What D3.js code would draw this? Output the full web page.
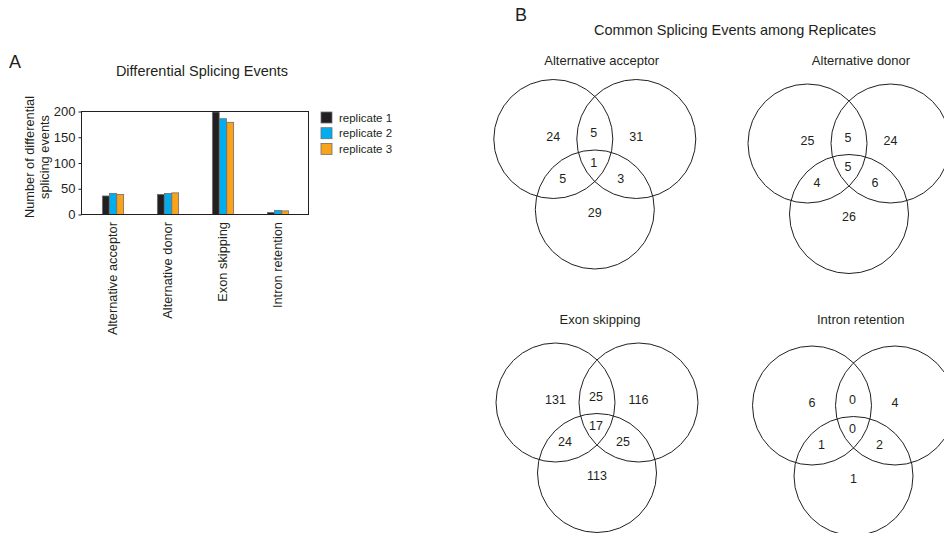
<!DOCTYPE html>
<html>
<head>
<meta charset="utf-8">
<script src="https://cdn.jsdelivr.net/npm/d3@7"></script>
<style>
  body { margin: 0; background: #fff; }
  text { font-family: "Liberation Sans", Arial, sans-serif; fill: #231f20; }
</style>
</head>
<body>
<div id="chart"></div>
<script>
// bar chart data (panel A)
const categories = ['Alternative acceptor', 'Alternative donor', 'Exon skipping', 'Intron retention'];
const replicates = ['replicate 1', 'replicate 2', 'replicate 3'];
const rep1 = [36, 39, 199, 4];
const rep2 = [41, 41, 186, 8];
const rep3 = [39, 42, 179, 7];
const yTicks = [0, 50, 100, 150, 200];
const barColors = ['#231f20', '#00aeef', '#f9a31b'];

// venn counts (panel B): only1, 1&2, only2, 1&2&3, 1&3, 2&3, only3
const vennTitles = ['Alternative acceptor', 'Alternative donor', 'Exon skipping', 'Intron retention'];
const vennAcceptor = [24, 5, 31, 1, 5, 3, 29];
const vennDonor = [25, 5, 24, 5, 4, 6, 26];
const vennExon = [131, 25, 116, 17, 24, 25, 113];
const vennIntron = [6, 0, 4, 0, 1, 2, 1];

const W = 944, H = 533;

const svg = d3.select('#chart')
    .append('svg')
    .attr('width', W)
    .attr('height', H);

// ---------- panel A ----------
const plotL = 81.5, plotR = 308.5, plotT = 111.5, plotB = 214.5;

const x = d3.scaleBand()
    .domain(categories)
    .range([85.5, 305.5])
    .paddingInner(0.6)
    .paddingOuter(0.3);

const xSub = d3.scaleBand()
    .domain(replicates)
    .range([0, x.bandwidth()])
    .padding(0.05);

const y = d3.scaleLinear()
    .domain([0, 200])
    .range([plotB, plotT]);

svg.append('text')
    .attr('x', 9).attr('y', 62)
    .attr('dy', '0.35em')
    .style('font-size', '18px')
    .text('A');

svg.append('text')
    .attr('x', 202).attr('y', 71)
    .attr('dy', '0.35em')
    .attr('text-anchor', 'middle')
    .style('font-size', '14.5px')
    .text('Differential Splicing Events');

const series = [rep1, rep2, rep3];
const groups = svg.append('g').selectAll('g')
    .data(categories)
    .enter()
    .append('g')
    .attr('transform', d => `translate(${x(d)},0)`);

groups.selectAll('rect')
    .data((d, i) => replicates.map((r, j) => ({ rep: r, j: j, value: series[j][i] })))
    .enter()
    .append('rect')
    .attr('x', d => xSub(d.rep))
    .attr('width', xSub.bandwidth())
    .attr('y', d => y(d.value))
    .attr('height', d => y(0) - y(d.value))
    .style('fill', d => barColors[d.j])
    .style('stroke', '#6d6e71')
    .style('stroke-width', 0.8);

// frame
svg.append('rect')
    .attr('x', plotL).attr('y', plotT)
    .attr('width', plotR - plotL).attr('height', plotB - plotT)
    .style('fill', 'none')
    .style('stroke', '#231f20')
    .style('stroke-width', 1);

const yAxis = d3.axisLeft(y).tickValues(yTicks).tickSize(3).tickSizeOuter(0);
const gy = svg.append('g')
    .attr('transform', `translate(${plotL},0)`)
    .call(yAxis);
gy.select('.domain').remove();
gy.selectAll('text')
    .style('font-size', '13px')
    .style('font-family', '"Liberation Sans", Arial, sans-serif')
    .style('fill', '#231f20');
gy.selectAll('line').style('stroke', '#231f20');

// y label, two lines
svg.append('g').selectAll('text')
    .data(['Number of differential', 'splicing events'])
    .enter()
    .append('text')
    .attr('transform', (d, i) => `translate(${30 + i * 15},157) rotate(-90)`)
    .attr('dy', '0.35em')
    .attr('text-anchor', 'middle')
    .style('font-size', '12.8px')
    .text(d => d);

// x labels
svg.append('g').selectAll('text')
    .data(categories)
    .enter()
    .append('text')
    .attr('transform', d => `translate(${x(d) + x.bandwidth() / 2},222) rotate(-90)`)
    .attr('dy', '0.35em')
    .attr('text-anchor', 'end')
    .style('font-size', '12.8px')
    .text(d => d);

// legend
const legend = svg.append('g').selectAll('g')
    .data(replicates)
    .enter()
    .append('g')
    .attr('transform', (d, i) => `translate(321,${112 + i * 15.7})`);
legend.append('rect')
    .attr('width', 11).attr('height', 11)
    .style('fill', (d, i) => barColors[i])
    .style('stroke', '#6d6e71')
    .style('stroke-width', 0.8);
legend.append('text')
    .attr('x', 18).attr('y', 5.5)
    .attr('dy', '0.35em')
    .style('font-size', '11.5px')
    .text(d => d);

// ---------- panel B ----------
svg.append('text')
    .attr('x', 515).attr('y', 15)
    .attr('dy', '0.35em')
    .style('font-size', '18px')
    .text('B');

svg.append('text')
    .attr('x', 735).attr('y', 30)
    .attr('dy', '0.35em')
    .attr('text-anchor', 'middle')
    .style('font-size', '14.5px')
    .text('Common Splicing Events among Replicates');

const vennData = [vennAcceptor, vennDonor, vennExon, vennIntron];
const panels = [
  { cx: 553.3, cy: 139, tx: 601.7, ty: 60 },
  { cx: 807.5, cy: 143.5, tx: 861, ty: 60 },
  { cx: 555.5, cy: 402.5, tx: 600, ty: 319 },
  { cx: 812, cy: 405.5, tx: 860.7, ty: 319 }
];
const r = 59.5, dx = 83, dy = 70.5;

// label offsets relative to (cx, cy)
const labelPos = [
  [0, -2.5],
  [dx / 2 - 1, -6],
  [dx, -2.5],
  [dx / 2 - 1, 23.5],
  [dx / 2 - 32, 39.5],
  [dx / 2 + 26, 39.5],
  [dx / 2, dy + 3]
];

panels.forEach((p, k) => {
  const g = svg.append('g');
  g.append('text')
      .attr('x', p.tx).attr('y', p.ty)
      .attr('dy', '0.35em')
      .attr('text-anchor', 'middle')
      .style('font-size', '13px')
      .text(vennTitles[k]);

  const centers = [[p.cx, p.cy], [p.cx + dx, p.cy], [p.cx + dx / 2, p.cy + dy]];
  g.selectAll('circle')
      .data(centers)
      .enter()
      .append('circle')
      .attr('cx', d => d[0])
      .attr('cy', d => d[1])
      .attr('r', r)
      .style('fill', 'none')
      .style('stroke', '#231f20')
      .style('stroke-width', 1);

  g.selectAll('text.n')
      .data(vennData[k])
      .enter()
      .append('text')
      .attr('class', 'n')
      .attr('x', (d, i) => p.cx + labelPos[i][0])
      .attr('y', (d, i) => p.cy + labelPos[i][1])
      .attr('dy', '0.35em')
      .attr('text-anchor', 'middle')
      .style('font-size', '12.5px')
      .text(d => d);
});
</script>
</body>
</html>
